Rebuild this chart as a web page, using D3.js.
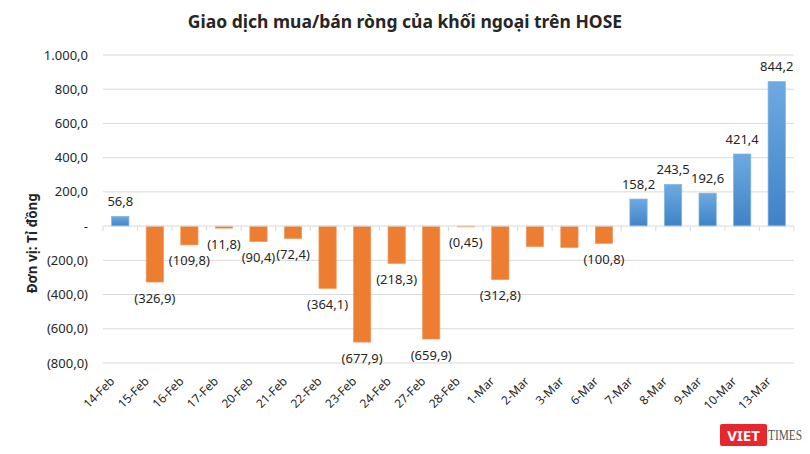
<!DOCTYPE html>
<html>
<head>
<meta charset="utf-8">
<script src="https://cdn.jsdelivr.net/npm/d3@7"></script>
<style>
  body { margin: 0; background: #fff; }
  text { font-family: "Noto Sans", "Open Sans", sans-serif; fill: #262626; }
</style>
</head>
<body>
<div id="chart"></div>
<script>
var categories = ["14-Feb", "15-Feb", "16-Feb", "17-Feb", "20-Feb", "21-Feb", "22-Feb", "23-Feb", "24-Feb", "27-Feb",
    "28-Feb", "1-Mar", "2-Mar", "3-Mar", "6-Mar", "7-Mar", "8-Mar", "9-Mar", "10-Mar", "13-Mar"];
var values = [56.8, -326.9, -109.8, -11.8, -90.4, -72.4, -364.1, -677.9, -218.3, -659.9,
    -0.45, -312.8, -120, -125, -100.8, 158.2, 243.5, 192.6, 421.4, 844.2];
var hiddenLabels = ["2-Mar", "3-Mar"];
var yTicks = [1000, 800, 600, 400, 200, 0, -200, -400, -600, -800];

var width = 810, height = 454;
var margin = {top: 55, right: 16, bottom: 91, left: 103};

var vn = d3.formatLocale({decimal: ",", thousands: ".", grouping: [3], currency: ["", ""]});
function fmtTick(d) {
    if (d === 0) return "-";
    var s = vn.format(",.1f")(Math.abs(d));
    return d < 0 ? "(" + s + ")" : s;
}
function fmtLabel(d) {
    var s = Math.abs(d) < 1 ? vn.format(".2f")(Math.abs(d)) : vn.format(",.1f")(Math.abs(d));
    return d < 0 ? "(" + s + ")" : s;
}

var svg = d3.select("#chart").append("svg")
    .attr("width", width)
    .attr("height", height);

var defs = svg.append("defs");
var grad = defs.append("linearGradient")
    .attr("id", "blueGrad")
    .attr("x1", 0).attr("y1", 0).attr("x2", 0).attr("y2", 1);
grad.append("stop").attr("offset", "0%").attr("stop-color", "#6eaae0");
grad.append("stop").attr("offset", "100%").attr("stop-color", "#3f82c6");

var x = d3.scaleBand()
    .domain(categories)
    .range([margin.left, width - margin.right])
    .paddingInner(0.5)
    .paddingOuter(0.25);

var y = d3.scaleLinear()
    .domain([-800, 1000])
    .range([height - margin.bottom, margin.top]);

// title
svg.append("text")
    .attr("x", 405)
    .attr("y", 28)
    .attr("text-anchor", "middle")
    .style("font-size", "17.5px")
    .style("font-weight", "bold")
    .text("Giao dịch mua/bán ròng của khối ngoại trên HOSE");

// y axis title
svg.append("text")
    .attr("transform", "translate(37," + y(-100) + ") rotate(-90)")
    .attr("text-anchor", "middle")
    .style("font-size", "13.5px")
    .style("font-weight", "bold")
    .text("Đơn vị: Tỉ đồng");

// gridlines
svg.append("g")
    .selectAll("line")
    .data(yTicks.filter(function (d) { return d !== 0; }))
    .enter().append("line")
    .attr("x1", margin.left)
    .attr("x2", width - margin.right)
    .attr("y1", function (d) { return y(d); })
    .attr("y2", function (d) { return y(d); })
    .style("stroke", "#d9d9d9")
    .style("stroke-width", 1);

// y tick labels
svg.append("g")
    .selectAll("text")
    .data(yTicks)
    .enter().append("text")
    .attr("x", 88)
    .attr("y", function (d) { return y(d); })
    .attr("dy", ".35em")
    .attr("text-anchor", "end")
    .style("font-size", "13px")
    .text(fmtTick);

// bars
svg.append("g")
    .selectAll("rect")
    .data(values)
    .enter().append("rect")
    .attr("x", function (d, i) { return x(categories[i]); })
    .attr("width", x.bandwidth())
    .attr("y", function (d) { return y(Math.max(0, d)); })
    .attr("height", function (d) { return Math.max(0.8, Math.abs(y(d) - y(0))); })
    .style("fill", function (d) { return d >= 0 ? "url(#blueGrad)" : "#ed7d31"; })
    .style("stroke", function (d) { return d >= 0 ? "#7fb3e3" : "#f09a5e"; })
    .style("stroke-width", 0.7);

// zero axis line + ticks between categories
var step = x.step();
var axisG = svg.append("g");
axisG.append("line")
    .attr("x1", margin.left)
    .attr("x2", width - margin.right)
    .attr("y1", y(0))
    .attr("y2", y(0))
    .style("stroke", "#d9d9d9");
var bounds = d3.range(categories.length + 1).map(function (i) { return margin.left + i * step; });
axisG.selectAll("line.tick")
    .data(bounds)
    .enter().append("line")
    .attr("class", "tick")
    .attr("x1", function (d) { return d; })
    .attr("x2", function (d) { return d; })
    .attr("y1", y(0))
    .attr("y2", y(0) + 5)
    .style("stroke", "#d9d9d9");

// data labels
svg.append("g")
    .selectAll("text")
    .data(values)
    .enter().append("text")
    .filter(function (d, i) { return hiddenLabels.indexOf(categories[i]) < 0; })
    .attr("x", function (d) {
        var i = values.indexOf(d);
        return x(categories[i]) + x.bandwidth() / 2;
    })
    .attr("y", function (d) { return d >= 0 ? y(d) - 15 : y(d) + 16; })
    .attr("dy", ".35em")
    .attr("text-anchor", "middle")
    .style("font-size", "13px")
    .text(fmtLabel);

// x labels
svg.append("g")
    .selectAll("text")
    .data(categories)
    .enter().append("text")
    .attr("transform", function (d) {
        return "translate(" + (x(d) + x.bandwidth() / 2 - 5) + "," + (y(-800) + 19) + ") rotate(-45)";
    })
    .attr("text-anchor", "end")
    .style("font-size", "12px")
    .text(function (d) { return d; });

// watermark
var logo = svg.append("g").attr("transform", "translate(720,424)");
logo.append("rect")
    .attr("x", 0).attr("y", 0)
    .attr("width", 47).attr("height", 22)
    .attr("rx", 2)
    .style("fill", "#e8262d");
logo.append("text")
    .attr("x", 23.5).attr("y", 17)
    .attr("text-anchor", "middle")
    .style("font-size", "15px")
    .style("font-weight", "bold")
    .style("fill", "#fff")
    .text("VIET");
logo.append("text")
    .attr("x", 48).attr("y", 16)
    .attr("textLength", 34)
    .attr("lengthAdjust", "spacingAndGlyphs")
    .style("font-family", "'Liberation Serif', serif")
    .style("font-size", "14px")
    .style("fill", "#555")
    .text("TIMES");
</script>
</body>
</html>
